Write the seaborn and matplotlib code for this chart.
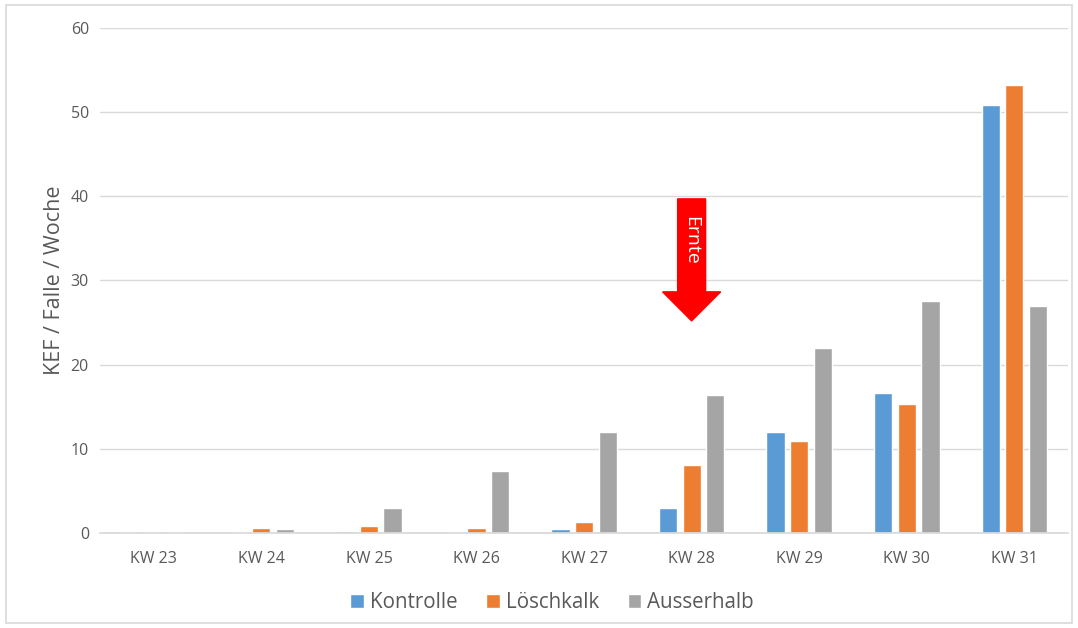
import matplotlib
matplotlib.use("Agg")
import matplotlib.pyplot as plt
import seaborn as sns
import pandas as pd
from matplotlib.patches import FancyArrow, Rectangle

weeks = ["KW 23", "KW 24", "KW 25", "KW 26", "KW 27", "KW 28", "KW 29", "KW 30", "KW 31"]
kontrolle = [0, 0, 0.2, 0, 0.5, 3.0, 12.0, 16.6, 50.8]
loeschkalk = [0, 0.6, 0.8, 0.6, 1.3, 8.1, 10.9, 15.3, 53.2]
ausserhalb = [0, 0.5, 3.0, 7.4, 12.0, 16.4, 22.0, 27.6, 27.0]
series_names = ["Kontrolle", "Löschkalk", "Ausserhalb"]
colors = ["#5B9BD5", "#ED7D31", "#A5A5A5"]

rows = []
for name, vals in zip(series_names, [kontrolle, loeschkalk, ausserhalb]):
    for w, v in zip(weeks, vals):
        rows.append({"Woche": w, "Serie": name, "Wert": v})
df = pd.DataFrame(rows)

sns.set_theme(style="white")
plt.rcParams['font.family'] = ['Open Sans', 'DejaVu Sans']

fig = plt.figure(figsize=(10.78, 6.28), dpi=100)
ax = fig.add_axes([0.0928, 0.1513, 0.898, 0.8041])

sns.barplot(data=df, x="Woche", y="Wert", hue="Serie", order=weeks,
            hue_order=series_names, palette=colors, width=0.66, gap=0.23,
            saturation=1, ax=ax, zorder=3)

ax.set_ylim(0, 60)
ax.set_yticks(range(0, 61, 10))
ax.set_xlim(-0.5, len(weeks) - 0.5)
ax.yaxis.grid(True, color="#D9D9D9", linewidth=1, zorder=0)
ax.set_axisbelow(True)
for s in ["top", "right", "left"]:
    ax.spines[s].set_visible(False)
ax.spines["bottom"].set_color("#D9D9D9")
ax.spines["bottom"].set_zorder(4)
ax.tick_params(axis="both", length=0, labelsize=11.5, labelcolor="#595959")
ax.tick_params(axis="x", pad=13)
ax.tick_params(axis="y", pad=8)
ax.set_xlabel("")
ax.set_ylabel("KEF / Falle / Woche", fontsize=15.5, color="#595959", labelpad=4)

leg = ax.legend(loc="upper center", bbox_to_anchor=(0.467, -0.08), ncol=3,
                frameon=False, fontsize=14.8, handlelength=0.65, handleheight=0.65,
                handletextpad=0.3, columnspacing=1.4)
for t in leg.get_texts():
    t.set_color("#595959")

# Harvest arrow
arrow = FancyArrow(5.0, 39.7, 0, -14.5, width=0.26, head_width=0.54,
                   head_length=3.45, length_includes_head=True,
                   color="#FF0000", zorder=5)
ax.add_patch(arrow)
ax.text(5.0, 34.8, "Ernte", rotation=-90, ha="center", va="center",
        color="white", fontsize=14, zorder=6)

fig.patches.append(Rectangle((0.006, 0.008), 0.988, 0.984, transform=fig.transFigure,
                             fill=False, edgecolor="#D9D9D9", linewidth=1.2))

fig.savefig("out.png", dpi=100)
